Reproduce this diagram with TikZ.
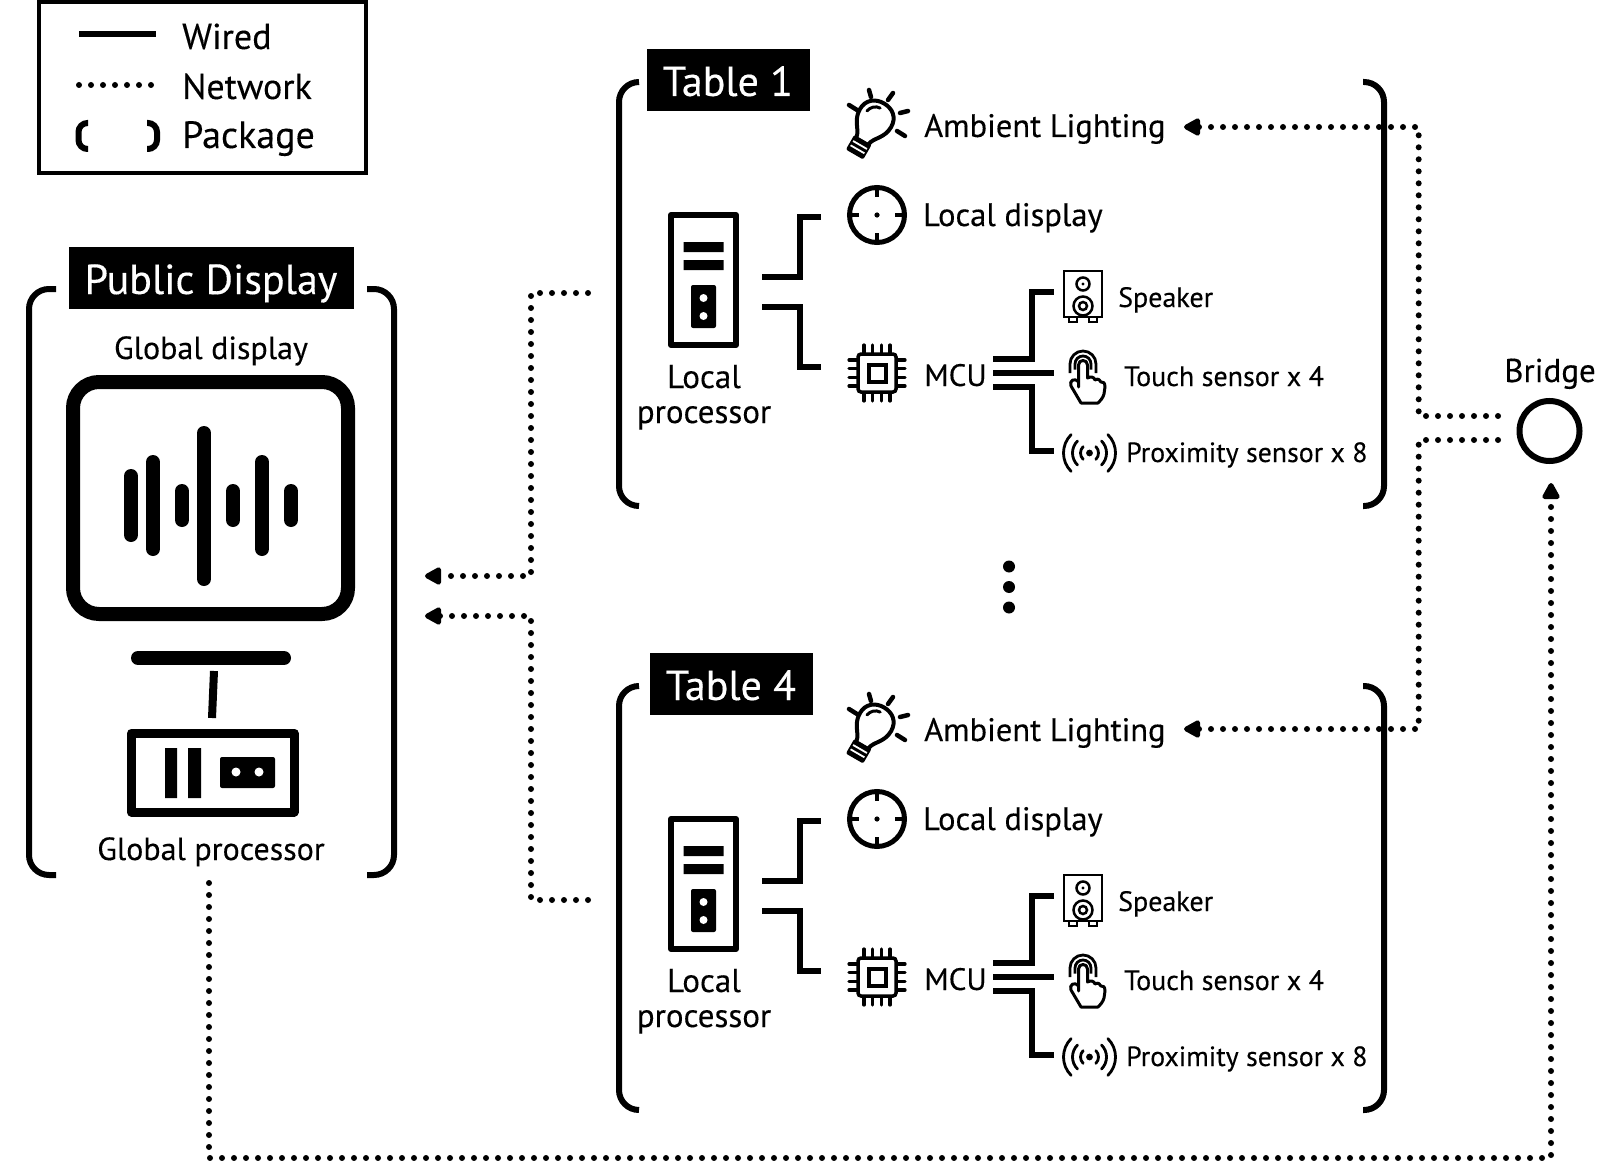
\documentclass[tikz,border=0pt]{standalone}
\usepackage{fontspec}
\setmainfont{PT Sans}[FakeBold=0.25]
\usetikzlibrary{arrows.meta,calc}
\newcommand{\fs}[1]{\fontsize{#1}{#1}\selectfont}
\tikzset{
  wired/.style={line width=5.5pt,line cap=butt,line join=miter},
  bracket/.style={line width=6pt,rounded corners=20pt},
  net/.style={line width=6pt,line cap=round,dash pattern=on 0pt off 12pt},
  nettip/.style={-{Triangle[length=19pt,width=19pt,round=false]}},
  titlebox/.style={fill=black,text=white,inner sep=0pt,font=\fs{42},text height=32pt,text depth=0pt},
  lbl/.style={anchor=base west,inner sep=0pt,font=\fs{32.5}},
  lblc/.style={anchor=base,inner sep=0pt,font=\fs{33}},
  lblg/.style={anchor=base,inner sep=0pt,font=\fs{32}},
  small/.style={anchor=base west,inner sep=0pt,font=\fs{28}},
  bulbicon/.pic={
    \begin{scope}[rotate=-30]
      \draw[line width=4pt,fill=white] (-7,25) .. controls (-8,17) and (-18,12) .. (-18,-1) .. controls (-18,-12) and (-10,-18) .. (0,-18) .. controls (10,-18) and (18,-12) .. (18,-1) .. controls (18,12) and (8,17) .. (7,25);
      \draw[line width=3pt,line cap=round] (-11,-3) .. controls (-10,-8) and (-6,-12) .. (-1,-12);
      \fill[rounded corners=2pt] (-10,24) rectangle (10,41);
      \draw[white,line width=1.8pt] (-8,30) -- (8,30) (-8,35) -- (8,35);
    \end{scope}
    \draw[line width=4.5pt,line cap=round] (-6,-29) -- (-4,-22) (18,-26) -- (13,-19) (33,-8) -- (25,-6) (30,17) -- (22,12) (-26,-14) -- (-18,-9);
  },
  crossicon/.pic={
    \draw[line width=5pt] (0,0) circle (27.5pt);
    \draw[line width=4pt] (0,-27) -- (0,-18) (0,27) -- (0,18) (-27,0) -- (-18,0) (27,0) -- (18,0);
    \fill (0,0) circle (2.6pt);
  },
  towericon/.pic={
    \draw[line width=6pt,line join=round] (-32.5,-65) rectangle (32.5,65);
    \fill (-20,-38) rectangle (20,-28) (-20,-20) rectangle (20,-10);
    \fill[rounded corners=2pt] (-12.5,5) rectangle (12.5,48);
    \fill[white] (0,18) circle (4pt) (0,36) circle (4pt);
  },
  cpuicon/.pic={
    \draw[line width=3.5pt,rounded corners=3pt] (-19,-19) rectangle (19,19);
    \draw[line width=4pt] (-8.5,-8.5) rectangle (8.5,8.5);
    \foreach \p in {-13,-4.5,4.5,13}{
      \draw[line width=3.2pt,line cap=round] (\p,-20) -- (\p,-28) (\p,20) -- (\p,28) (-20,\p) -- (-28,\p) (20,\p) -- (28,\p);
    }
  },
  speakericon/.pic={
    \draw[line width=2.8pt] (-19,-26) rectangle (19,20);
    \draw[line width=2.5pt] (-14,20) rectangle (-6,25) (6,20) rectangle (14,25);
    \draw[line width=2.5pt] (0,-13) circle (6.5pt) (0,9) circle (9.5pt) (0,9) circle (4pt);
    \fill (0,-13) circle (1.6pt);
  },
  touchicon/.pic={
    \foreach \r in {8,13}{
      \draw[line width=2.8pt] (-\r,\r*0.7) -- (-\r,0) .. controls (-\r,-0.5523*\r) and (-0.5523*\r,-\r) .. (0,-\r) .. controls (0.5523*\r,-\r) and (\r,-0.5523*\r) .. (\r,0) -- (\r,\r*0.7);
    }
    \draw[line width=3pt,line join=round,fill=white] (-4.5,23) -- (-4.5,1) .. controls (-4.5,-5) and (4.5,-5) .. (4.5,1) -- (4.5,14) .. controls (8,12) and (11,13) .. (12,16) .. controls (15,14) and (17,16) .. (18,18) .. controls (20,17) and (22,19) .. (22,23) -- (21,30) .. controls (20,34) and (17,37) .. (15,39) -- (-2,39) -- (-12,22) .. controls (-14,17) and (-9,13) .. (-4.5,18) -- cycle;
  },
  proxicon/.pic={
    \fill (0,0) circle (3.4pt);
    \foreach \r in {9,17,26}{
      \draw[line width=2.8pt,line cap=round] (0.707*\r,-0.707*\r) .. controls (1.098*\r,-0.317*\r) and (1.098*\r,0.317*\r) .. (0.707*\r,0.707*\r);
      \draw[line width=2.8pt,line cap=round] (-0.707*\r,-0.707*\r) .. controls (-1.098*\r,-0.317*\r) and (-1.098*\r,0.317*\r) .. (-0.707*\r,0.707*\r);
    }
  },
}
% #1 prefix, #2 vertical shift, #3 title, #4 title x
\newcommand{\tablegroup}[4]{
  \begin{scope}[shift={(0,#2)}]
    \draw[bracket] (639,82) -- (619,82) -- (619,506) -- (639,506);
    \draw[bracket] (1363,82) -- (1384,82) -- (1384,506) -- (1363,506);
    \node[titlebox,minimum width=163pt,minimum height=62pt] (#1-title) at (#4,80) {#3};
    \pic (#1-bulb) at (875,119) {bulbicon};
    \node[lbl] (#1-amb) at (924,137) {Ambient Lighting};
    \pic (#1-disp) at (877,215) {crossicon};
    \node[lbl] (#1-ld) at (923,226) {Local display};
    \pic (#1-tower) at (703.5,280) {towericon};
    \node[lblc] (#1-lp1) at (704,388) {Local};
    \node[lblc] (#1-lp2) at (704,423) {processor};
    \coordinate (#1-t1) at (762,277);
    \coordinate (#1-d1) at (821,217);
    \coordinate (#1-t2) at (762,307);
    \coordinate (#1-m1) at (821,367);
    \draw[wired] (#1-t1) -- ++(38,0) |- (#1-d1);
    \draw[wired] (#1-t2) -- ++(38,0) |- (#1-m1);
    \pic (#1-cpu) at (877,373) {cpuicon};
    \node[lbl,font=\fs{31}] (#1-mcu) at (924,386) {MCU};
    \coordinate (#1-s0) at (993,359);
    \coordinate (#1-s1) at (1054,292);
    \coordinate (#1-c0) at (993,373);
    \coordinate (#1-c1) at (1054,373);
    \coordinate (#1-p0) at (993,387);
    \coordinate (#1-p1) at (1054,451);
    \draw[wired] (#1-s0) -- ++(39,0) |- (#1-s1);
    \draw[wired] (#1-c0) -- (#1-c1);
    \draw[wired] (#1-p0) -- ++(39,0) |- (#1-p1);
    \pic (#1-spk) at (1083,297) {speakericon};
    \node[small] (#1-spkl) at (1118,307) {Speaker};
    \pic (#1-tch) at (1083,364) {touchicon};
    \node[small] (#1-tchl) at (1124,386) {Touch sensor x 4};
    \pic (#1-prx) at (1089.5,453) {proxicon};
    \node[small,font=\fs{27.8}] (#1-prxl) at (1126,462) {Proximity sensor x 8};
  \end{scope}
}
\begin{document}
\begin{tikzpicture}[x=1pt,y=-1pt]
\useasboundingbox (0,0) rectangle (1614,1161);
% legend
\draw[line width=4pt] (39,2) rectangle (366,173);
\coordinate (lw0) at (79,34);
\coordinate (lw1) at (156,34);
\draw[wired,line width=6pt] (lw0) -- (lw1);
\coordinate (ln0) at (79,85);
\coordinate (ln1) at (155,85);
\draw[net] (ln0) -- (ln1);
\draw[line width=6pt,rounded corners=9pt] (88,123) -- (78.5,123) -- (78.5,149) -- (88,149);
\draw[line width=6pt,rounded corners=9pt] (147,123) -- (157,123) -- (157,149) -- (147,149);
\node[lbl,font=\fs{36}] (lgw) at (182,49) {Wired};
\node[lbl,font=\fs{36}] (lgn) at (182,99) {Network};
\node[lbl,font=\fs{38}] (lgp) at (182,148) {Package};
% public display
\draw[bracket] (56,289) -- (29,289) -- (29,875) -- (56,875);
\draw[bracket] (367,289) -- (394,289) -- (394,875) -- (367,875);
\node[titlebox,minimum width=285pt,minimum height=62pt] (pdt) at (211,278) {Public Display};
\node[lblg] (gd) at (211,359) {Global display};
\draw[line width=14pt,rounded corners=26pt] (73,382) rectangle (348,614);
\foreach \x/\a/\b in {131/469/542,153/455/556,182/484/527,204/426/586,233/484/527,262/455/556,291/484/527}{
  \draw[line width=14pt,line cap=round] (\x,\a+7) -- (\x,\b-7);
}
\draw[line width=14pt,line cap=round] (138,658) -- (284,658);
\draw[line width=8pt] (214,671) -- (212,718);
\draw[line width=9pt,line join=round] (131.5,733) rectangle (294,812);
\fill (165,748) rectangle (177,798) (188,748) rectangle (201,798);
\fill[rounded corners=2pt] (220,757) rectangle (275,788);
\fill[white] (236,772) circle (4.5pt) (259,772) circle (4.5pt);
\node[lblg] (gp) at (211,860) {Global processor};
\tablegroup{t1}{0}{Table 1}{728}
\tablegroup{t4}{604}{Table 4}{731}
% dots
\fill (1009,566.5) circle (6pt) (1009,587) circle (6pt) (1009,607.5) circle (6pt);
% bridge
\node[draw,circle,line width=6pt,minimum size=60pt,inner sep=0pt] (bridge) at (1549.5,431) {};
\node[lblc] (bl) at (1550,382) {Bridge};
\coordinate (pdi1) at (425,576);
\coordinate (pdi2) at (425,616);
\coordinate (t1n) at (588,293);
\coordinate (t4n) at (588,900);
\coordinate (bo1) at (1498,416);
\coordinate (bo2) at (1498,440);
\coordinate (t1a) at (1184,127);
\coordinate (t4a) at (1184,729);
\coordinate (pdo) at (209,883);
\coordinate (bin) at (1551,483);
\coordinate (nb) at (0,1158);
\draw[net,nettip] (t1n) -- ++(-57,0) |- (pdi1);
\draw[net,nettip] (t4n) -- ++(-57,0) |- (pdi2);
\draw[net,nettip] (bo1) -- ++(-79.3,0) |- (t1a);
\draw[net,nettip] (bo2) -- ++(-79.3,0) |- (t4a);
\draw[net,nettip] (pdo) |- (nb -| bin) -- (bin);
\end{tikzpicture}
\end{document}
